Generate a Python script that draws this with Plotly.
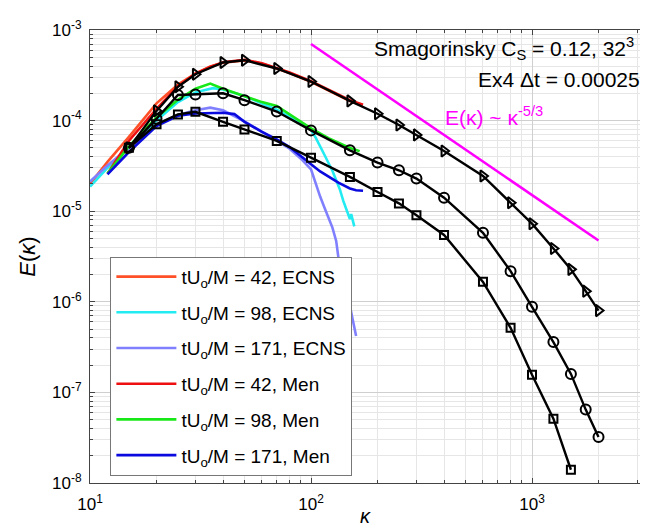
import numpy as np
import plotly.graph_objects as go

# ---------------- data ----------------
# ECNS spectra
k_ecns42 = [10, 12, 15, 20, 25, 30, 35, 40, 50, 60, 70, 80, 100, 120, 150, 170]
E_ecns42 = [2.0e-5, 3.5e-5, 6.6e-5, 1.55e-4, 2.5e-4, 3.3e-4, 3.95e-4, 4.35e-4, 4.62e-4,
            4.25e-4, 3.75e-4, 3.35e-4, 2.68e-4, 2.15e-4, 1.64e-4, 1.48e-4]

k_ecns98 = [10, 12, 15, 20, 25, 30, 36, 40, 50, 60, 70, 80, 90, 100, 105, 110, 115, 120,
            125, 130, 135, 140, 145, 150, 152, 155, 157]
E_ecns98 = [1.87e-5, 3.0e-5, 5.2e-5, 1.0e-4, 1.6e-4, 2.05e-4, 2.28e-4, 2.2e-4, 1.87e-4,
            1.55e-4, 1.32e-4, 1.1e-4, 9.2e-5, 7.9e-5, 6.5e-5, 5.3e-5, 4.2e-5, 3.4e-5,
            2.8e-5, 2.2e-5, 1.75e-5, 1.3e-5, 1.05e-5, 8.2e-6, 9.3e-6, 7.6e-6, 6.8e-6]

k_ecns171 = [10, 12, 15, 20, 25, 30, 35, 40, 50, 60, 70, 80, 90, 100, 105, 110, 115, 120,
             125, 130, 133, 140, 150, 160]
E_ecns171 = [2.12e-5, 3.2e-5, 5.0e-5, 9.0e-5, 1.15e-4, 1.3e-4, 1.39e-4, 1.3e-4, 9.8e-5,
             7.6e-5, 6.0e-5, 4.9e-5, 3.8e-5, 2.9e-5, 2.0e-5, 1.45e-5, 1.1e-5, 8.5e-6,
             6.6e-6, 4.7e-6, 3.1e-6, 1.8e-6, 9.0e-7, 4.2e-7]

# Men spectra
k_men42 = [12, 15, 20, 25, 30, 35, 40, 50, 60, 70, 80, 100, 120, 150, 172]
E_men42 = [2.6e-5, 6.0e-5, 1.35e-4, 2.4e-4, 3.3e-4, 3.9e-4, 4.4e-4, 4.7e-4, 4.3e-4,
           3.8e-4, 3.4e-4, 2.72e-4, 2.2e-4, 1.68e-4, 1.5e-4]

k_men98 = [12, 15, 20, 25, 30, 35, 40, 50, 60, 70, 80, 100, 120, 150, 166]
E_men98 = [2.6e-5, 5.2e-5, 1.08e-4, 1.7e-4, 2.25e-4, 2.56e-4, 2.25e-4, 1.85e-4, 1.6e-4,
           1.45e-4, 1.17e-4, 8.2e-5, 6.4e-5, 5.0e-5, 4.6e-5]

k_men171 = [12, 15, 20, 25, 30, 35, 40, 45, 50, 60, 70, 80, 90, 100, 110, 120, 133, 150, 160, 172]
E_men171 = [2.55e-5, 4.5e-5, 8.7e-5, 1.13e-4, 1.2e-4, 1.22e-4, 1.22e-4, 1.18e-4, 9.7e-5,
            7.5e-5, 6.2e-5, 5.1e-5, 4.0e-5, 3.3e-5, 2.75e-5, 2.4e-5, 2.07e-5, 1.78e-5,
            1.7e-5, 1.68e-5]

# reference (black, marked) spectra
k_ref = [15, 20, 25, 30, 40, 50, 70, 100, 150, 200, 250, 300, 400, 600, 800, 1000,
         1250, 1500, 1750, 2000]
E_tri = [5.0e-5, 1.28e-4, 2.36e-4, 3.25e-4, 4.38e-4, 4.64e-4, 3.76e-4, 2.7e-4, 1.65e-4,
         1.19e-4, 8.95e-5, 6.95e-5, 4.62e-5, 2.45e-5, 1.24e-5, 7.28e-6, 3.88e-6,
         2.28e-6, 1.31e-6, 8.0e-7]
E_circ = [5.0e-5, 1.05e-4, 1.92e-4, 1.94e-4, 2.0e-4, 1.68e-4, 1.26e-4, 7.8e-5, 4.7e-5,
          3.44e-5, 2.83e-5, 2.29e-5, 1.41e-5, 5.78e-6, 2.18e-6, 8.8e-7, 3.59e-7,
          1.6e-7, 6.46e-8, 3.22e-8]
k_sq = [15, 20, 25, 30, 40, 50, 70, 100, 150, 200, 250, 300, 400, 600, 800, 1000, 1250, 1500]
E_sq = [5.0e-5, 9.1e-5, 1.17e-4, 1.25e-4, 9.7e-5, 8.0e-5, 5.97e-5, 3.9e-5, 2.39e-5,
        1.63e-5, 1.22e-5, 9.0e-6, 5.46e-6, 1.66e-6, 5.17e-7, 1.57e-7, 5.13e-8, 1.4e-8]

# -5/3 slope guide line
k_slope = [100, 2000]
E_slope = [7.0e-4, 4.75e-6]

x_tickvals = [10, 100, 1000]
x_ticktext = ["10<sup>1</sup>", "10<sup>2</sup>", "10<sup>3</sup>"]
y_tickvals = [1e-8, 1e-7, 1e-6, 1e-5, 1e-4, 1e-3]
y_ticktext = ["10<sup>-8</sup>", "10<sup>-7</sup>", "10<sup>-6</sup>",
              "10<sup>-5</sup>", "10<sup>-4</sup>", "10<sup>-3</sup>"]

legend_names = ["tU<sub>o</sub>/M = 42, ECNS", "tU<sub>o</sub>/M = 98, ECNS",
                "tU<sub>o</sub>/M = 171, ECNS", "tU<sub>o</sub>/M = 42, Men",
                "tU<sub>o</sub>/M = 98, Men", "tU<sub>o</sub>/M = 171, Men"]
colors = ["#ff5028", "#22ecf2", "#8080ff", "#ee1010", "#18e818", "#0a0ade"]

FONT = "Liberation Sans, Arial, sans-serif"

fig = go.Figure()
series = [(k_ecns42, E_ecns42), (k_ecns98, E_ecns98), (k_ecns171, E_ecns171),
          (k_men42, E_men42), (k_men98, E_men98), (k_men171, E_men171)]
for i, ((kk, ee), name, c) in enumerate(zip(series, legend_names, colors)):
    fig.add_trace(go.Scatter(x=kk, y=ee, mode="lines", name=name, legendgroup=f"g{i}",
                             line=dict(color=c, width=2.6)))

for kk, ee, sym, sz in [(k_ref, E_tri, "triangle-right-open", 10),
                        (k_ref, E_circ, "circle-open", 10),
                        (k_sq, E_sq, "square-open", 8)]:
    fig.add_trace(go.Scatter(x=kk, y=ee, mode="lines+markers", showlegend=False,
                             line=dict(color="black", width=2.4),
                             marker=dict(symbol=sym, size=sz, color="black",
                                         line=dict(color="black", width=2))))

fig.add_trace(go.Scatter(x=k_slope, y=E_slope, mode="lines", showlegend=False,
                         line=dict(color="#ff00ff", width=2.6)))

axis_common = dict(type="log", showline=True, linecolor="#444", linewidth=1,
                   ticks="inside", ticklen=5, tickcolor="#444",
                   showgrid=True, gridcolor="#cfcfcf", gridwidth=1,
                   zeroline=False,
                   tickfont=dict(family=FONT, size=17, color="black"),
                   minor=dict(dtick="D1", showgrid=True, gridcolor="#e6e6e6",
                              ticks="inside", ticklen=3, tickcolor="#444"))

fig.update_layout(
    width=648, height=531,
    margin=dict(l=82, r=0, t=22, b=56),
    paper_bgcolor="white", plot_bgcolor="white",
    font=dict(family=FONT, size=16, color="black"),
    xaxis=dict(axis_common, range=[1, np.log10(3640)], mirror="ticks",
               tickvals=x_tickvals, ticktext=x_ticktext, ticklabelstandoff=6),
    yaxis=dict(axis_common, range=[-8, -3], mirror=False,
               tickvals=y_tickvals, ticktext=y_ticktext, ticklabelstandoff=4,
               title=dict(text="<i>E</i>(<i>κ</i>)", font=dict(family=FONT, size=22), standoff=10)),
    legend=dict(x=0.036, y=0.016, xanchor="left", yanchor="bottom",
                bgcolor="white", bordercolor="#777", borderwidth=1,
                font=dict(family=FONT, size=19, color="black"),
                itemwidth=60, tracegroupgap=8),
    showlegend=True,
)

# x-axis title
fig.add_annotation(x=0.487, y=-0.072, xref="paper", yref="paper", xanchor="center",
                   yanchor="middle", showarrow=False, text="<i>κ</i>",
                   font=dict(family=FONT, size=20, color="black"))

fig.add_annotation(x=0.965, y=0.96, xref="paper", yref="paper", xanchor="right",
                   yanchor="middle", showarrow=False,
                   text="Smagorinsky C<sub>S</sub> = 0.12, 32<sup>3</sup>",
                   font=dict(family=FONT, size=21, color="black"))
fig.add_annotation(x=0.975, y=0.89, xref="paper", yref="paper", xanchor="right",
                   yanchor="middle", showarrow=False,
                   text="Ex4 Δt = 0.00025",
                   font=dict(family=FONT, size=21, color="black"))
fig.add_annotation(x=0.714, y=0.81, xref="paper", yref="paper", xanchor="center",
                   yanchor="middle", showarrow=False,
                   text="E(κ) ~ κ<sup>-5/3</sup>",
                   font=dict(family=FONT, size=21, color="#ff00ff"))

fig.write_html("out.html")
